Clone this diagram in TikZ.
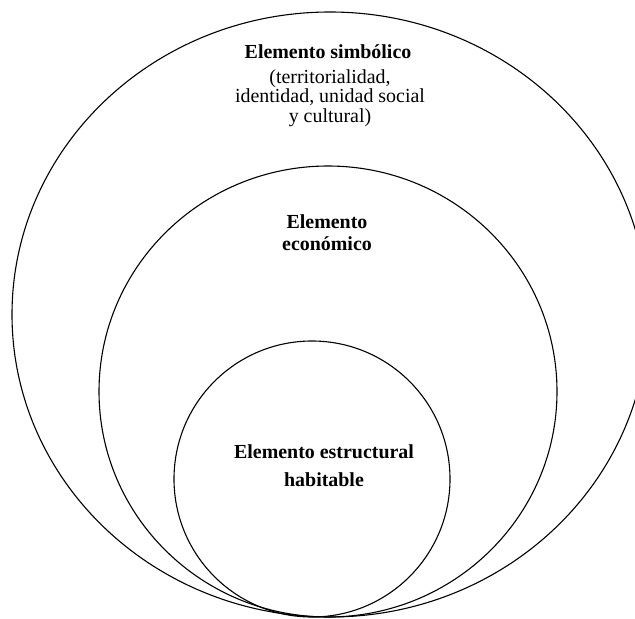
\documentclass[tikz,border=0pt]{standalone}
\usepackage{fontspec}
\setmainfont{Liberation Serif}
\begin{document}
\begin{tikzpicture}[x=1bp,y=-1bp,
  ring/.style={draw=black,line width=1.1bp},
  title/.style={font=\fontsize{20}{22}\selectfont\bfseries,align=center,inner sep=0pt},
  note/.style={font=\fontsize{20}{19.5}\selectfont,align=center,inner sep=0pt}]
\useasboundingbox (0,0) rectangle (635,619);
\clip (0,0) rectangle (635,619);
% three nested rings sharing a common bottom point
\draw[ring] (330,314.5) ellipse [x radius=318, y radius=302.5];
\draw[ring] (328,391.5) ellipse [x radius=229, y radius=225.5];
\draw[ring] (312,479) circle [radius=138];
% labels
\node[title] (simb) at (328,52) {Elemento simbólico};
\node[note] (simbsub) at (330,98) {(territorialidad,\\identidad, unidad social\\y cultural)};
\node[title] (econ) at (327,233) {Elemento\\económico};
\node[title,font=\fontsize{20}{28}\selectfont\bfseries] (estr) at (324,466) {Elemento estructural\\habitable};
\end{tikzpicture}
\end{document}
